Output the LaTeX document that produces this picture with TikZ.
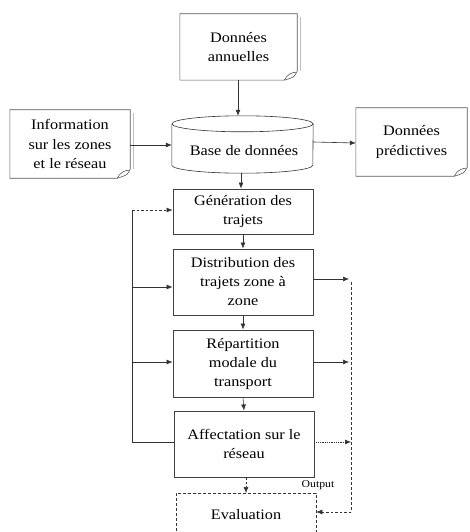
\documentclass[tikz,border=0pt]{standalone}
\usepackage{fontspec}
\setmainfont{Liberation Serif}[FakeStretch=1.12]
\usetikzlibrary{arrows.meta,calc}

\tikzset{
  line/.style={draw=black!80, line width=0.6pt},
  arr/.style={line, -{Latex[length=6pt,width=5pt]}},
  dasharr/.style={arr, dash pattern=on 2.5pt off 2pt},
  dotarr/.style={arr, dash pattern=on 1pt off 0.8pt},
  stepbox/.style={line, draw=black!75, line width=0.9pt, align=center, inner sep=0pt,
    minimum width=140pt, font=\fontsize{14.5}{19}\selectfont},
  doctext/.style={align=center, inner sep=0pt, font=\fontsize{14.5}{19.5}\selectfont},
  docline/.style={draw=black!65, line width=0.6pt},
  docshadow/.style={draw=black!25, line width=0.6pt},
}

% outline of a "document" node: rectangle with a curled lower right corner
\newcommand\docoutline[1]{%
  \draw[docshadow] ([xshift=3pt,yshift=-3pt]#1.north east) -- ([xshift=3pt,yshift=9pt]#1.south east);
  \draw[docline] (#1.north west) -- (#1.north east) -- ([yshift=9pt]#1.south east)
    .. controls ([xshift=-3pt,yshift=3pt]#1.south east) .. ([xshift=-13pt]#1.south east)
    -- (#1.south west) -- cycle;
  \draw[docline] ([xshift=-13pt]#1.south east)
    .. controls ([xshift=-10pt,yshift=6pt]#1.south east) and ([xshift=-5pt,yshift=8pt]#1.south east)
    .. ([xshift=-1pt,yshift=8pt]#1.south east);
}

\begin{document}
\begin{tikzpicture}[x=1pt,y=-1pt]
\useasboundingbox (0,0) rectangle (469,532);

% documents
\node[doctext, minimum width=117pt, minimum height=66pt] (ann) at (238.5,47) {Données\\annuelles};
\docoutline{ann}
\node[doctext, minimum width=120pt, minimum height=68pt] (info) at (70,144) {Information\\sur les zones\\et le réseau};
\docoutline{info}
\node[doctext, minimum width=111pt, minimum height=68pt] (pred) at (411.5,142) {Données\\prédictives};
\docoutline{pred}

% database cylinder
\node[doctext, minimum width=141pt, minimum height=57pt] (db) at (242.5,144.5) {};
\node[doctext] at (244,151) {Base de données};
\draw[line] ([yshift=-8pt]db.north west) -- ([yshift=8pt]db.south west)
  arc[start angle=180, end angle=360, x radius=70.5pt, y radius=8pt]
  -- ([yshift=-8pt]db.north east);
\draw[line] ([yshift=-8pt]db.north) ellipse[x radius=70.5pt, y radius=8pt];

% process steps
\node[stepbox, minimum height=45pt] (gen) at (243,211.5) {Génération des\\trajets};
\node[stepbox, minimum height=66pt] (dist) at (243,282) {Distribution des\\trajets zone à\\zone};
\node[stepbox, minimum height=67pt] (rep) at (243,363.5) {Répartition\\modale du\\transport};
\node[stepbox, minimum height=66pt] (aff) at (244,444) {Affectation sur le\\réseau};
\node[stepbox, draw=black!80, line width=0.6pt, dash pattern=on 3pt off 2pt,
  minimum height=60pt, anchor=north] (eval) at (246,493) {};
\node[doctext] (evaltxt) at (246,515) {Evaluation};
\node[font=\fontsize{10.5}{12}\selectfont, inner sep=0pt] (out) at (318,485) {Output};

% feed chain
\draw[arr] (ann.south -| 238,0) -- (db.north -| 238,0);
\draw[arr] (info.east |- 0,145) -- (db.west |- 0,145);
\draw[arr] (db.east |- 0,142) -- (pred.west |- 0,143);
\draw[arr] (db.south -| 241,0) -- (gen.north -| 241,0);
\draw[arr] (gen.south) -- (dist.north);
\draw[arr] (dist.south) -- (rep.north);
\draw[arr] (rep.south) -- (aff.north);
\draw[dasharr] (aff.south -| eval.north) -- (eval.north);

% feedback loop on the left
\coordinate (lb) at (132,442);
\coordinate (lt) at (132,210);
\draw[line] (aff.west |- lb) -- (lb) -- (lt);
\draw[dasharr] (lt) -- (gen.west |- lt);
\draw[arr] (132,287) coordinate (l2) -- (dist.west |- l2);
\draw[arr] (132,362) coordinate (l3) -- (rep.west |- l3);

% outputs on the right
\coordinate (r1) at (349,279);
\coordinate (r2) at (349,362);
\coordinate (r3) at (351,442);
\coordinate (rb) at (351,512);
\draw[arr] (dist.east |- r1) -- (r1);
\draw[arr] (rep.east |- r2) -- (r2);
\draw[dotarr] (aff.east |- r3) -- (r3);
\draw[line, dash pattern=on 3pt off 2pt] (351,282) -- (rb);
\draw[dasharr] (rb) -- (eval.east |- rb);
\end{tikzpicture}
\end{document}
